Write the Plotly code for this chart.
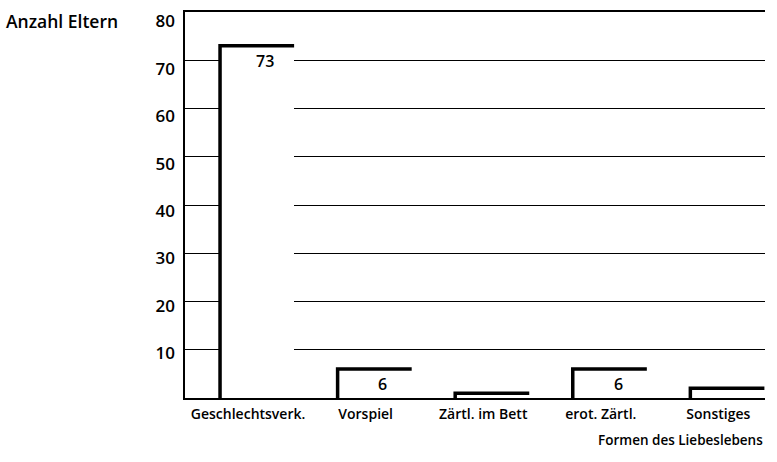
import plotly.graph_objects as go

categories = ["Geschlechtsverk.", "Vorspiel", "Zärtl. im Bett", "erot. Zärtl.", "Sonstiges"]
values = [73, 6, 1, 6, 2]
value_labels = ["73", "6", "", "6", ""]
y_ticks = [10, 20, 30, 40, 50, 60, 70, 80]

positions = list(range(len(categories)))
bar_width = 0.63
FONT = "Open Sans"

fig = go.Figure()

# white bars covering the gridlines
fig.add_trace(go.Bar(
    x=positions, y=values, width=bar_width,
    marker=dict(color="white", line=dict(width=0)),
    hoverinfo="skip", showlegend=False,
))

# left + top edges of each bar
xs, ys = [], []
for p, v in zip(positions, values):
    left = p - bar_width / 2
    right = p + bar_width / 2
    xs += [left, left, right, None]
    ys += [0, v, v, None]
fig.add_trace(go.Scatter(
    x=xs, y=ys, mode="lines",
    line=dict(color="black", width=3.5),
    hoverinfo="skip", showlegend=False, cliponaxis=False,
))

# anchor trace for the label axis (printed scale sits slightly off the grid)
fig.add_trace(go.Scatter(
    x=[None], y=[None], yaxis="y2", mode="markers",
    hoverinfo="skip", showlegend=False,
))

# value labels inside the bars
for p, v, t in zip(positions, values, value_labels):
    if t:
        fig.add_annotation(
            x=p + 0.07, y=v, text=t, showarrow=False,
            yanchor="top", yshift=-2,
            font=dict(family=FONT, size=16, color="black", weight=600),
        )

fig.add_annotation(
    xref="paper", yref="y", x=-0.312, y=80, xanchor="left", yanchor="middle",
    yshift=-9, text="Anzahl Eltern", showarrow=False,
    font=dict(family=FONT, size=17.5, color="black", weight=600),
)
fig.add_annotation(
    xref="paper", yref="paper", x=1.0, y=0, xanchor="right", yanchor="top",
    yshift=-31, text="Formen des Liebeslebens", showarrow=False,
    font=dict(family=FONT, size=13.5, color="black", weight=600),
)

fig.update_layout(
    width=777, height=462,
    margin=dict(l=185, r=12, t=9, b=64),
    paper_bgcolor="white", plot_bgcolor="white",
    font=dict(family=FONT, size=14, color="black", weight=600),
    bargap=0,
    xaxis=dict(
        range=[-0.613, 4.32],
        tickvals=positions, ticktext=categories,
        showgrid=False, zeroline=False,
        showline=True, linecolor="black", linewidth=2, mirror=True,
        ticks="", ticklabelstandoff=2, ticklabelshift=-9,
        tickfont=dict(family=FONT, size=14, color="black", weight=600),
    ),
    yaxis=dict(
        range=[0, 80],
        tickvals=y_ticks,
        showticklabels=False,
        showgrid=True, gridcolor="black", gridwidth=1.3,
        zeroline=False,
        showline=True, linecolor="black", linewidth=2,
        ticks="",
    ),
    yaxis2=dict(
        overlaying="y", side="left", anchor="x",
        range=[0.59, 81.99],
        tickvals=y_ticks,
        showgrid=False, zeroline=False, showline=False,
        ticks="", ticklabelstandoff=9,
        tickfont=dict(family=FONT, size=17, color="black", weight=600),
    ),
)

fig.write_html("out.html", config={"displayModeBar": False},
               post_script="document.body.style.margin='0';")
